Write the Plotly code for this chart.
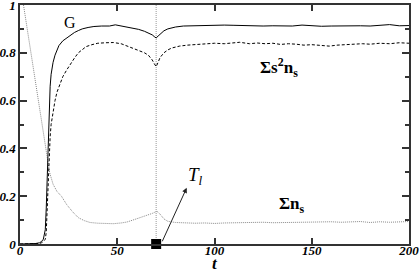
import plotly.graph_objects as go

# G (solid)
g_t = [0, 5, 8, 10, 11, 12, 13, 13.5, 14, 14.5, 15, 15.5, 16, 17, 18, 19, 20, 22, 24, 26, 28, 30, 32, 35, 38,
       42, 46, 49, 52, 55, 58, 61, 64, 66, 68, 69, 70, 71, 72, 74, 76, 78, 80, 84, 88, 92, 96, 100, 105, 110,
       115, 120, 125, 130, 135, 140, 145, 150, 155, 160, 165, 170, 175, 180, 185, 190, 195, 200]
g_v = [0, 0, 0.002, 0.005, 0.01, 0.02, 0.06, 0.15, 0.3, 0.45, 0.58, 0.66, 0.71, 0.76, 0.79, 0.815, 0.83, 0.85,
       0.863, 0.875, 0.885, 0.893, 0.9, 0.906, 0.91, 0.912, 0.912, 0.917, 0.912, 0.91, 0.905, 0.898, 0.89, 0.884,
       0.875, 0.868, 0.862, 0.87, 0.878, 0.892, 0.9, 0.905, 0.908, 0.912, 0.913, 0.915, 0.913, 0.914, 0.916,
       0.915, 0.913, 0.914, 0.912, 0.913, 0.911, 0.912, 0.916, 0.912, 0.911, 0.912, 0.913, 0.914, 0.913, 0.912,
       0.914, 0.918, 0.913, 0.914]

# sum s^2 n_s (dashed)
s2_t = [0, 8, 10, 11, 12, 13, 13.5, 14, 14.5, 15, 15.5, 16, 17, 18, 19, 20, 22, 24, 26, 28, 30, 32, 34, 37, 40,
        44, 48, 52, 56, 60, 64, 66, 68, 69, 70, 71, 72, 74, 76, 78, 82, 86, 90, 95, 100, 105, 110, 113, 118, 122,
        126, 130, 134, 138, 142, 146, 150, 155, 159, 163, 168, 172, 176, 180, 185, 190, 195, 200]
s2_v = [0, 0, 0.002, 0.005, 0.01, 0.02, 0.05, 0.15, 0.28, 0.38, 0.45, 0.5, 0.56, 0.6, 0.635, 0.66, 0.7, 0.728,
        0.755, 0.778, 0.8, 0.815, 0.826, 0.834, 0.84, 0.842, 0.843, 0.838, 0.826, 0.815, 0.8, 0.79, 0.77, 0.755,
        0.742, 0.76, 0.78, 0.8, 0.812, 0.82, 0.828, 0.832, 0.835, 0.837, 0.84, 0.838, 0.843, 0.844, 0.838, 0.841,
        0.838, 0.84, 0.835, 0.838, 0.836, 0.832, 0.834, 0.83, 0.828, 0.832, 0.834, 0.835, 0.838, 0.836, 0.84,
        0.838, 0.842, 0.84]

# sum n_s (dotted gray)
n_t = [1.8, 12.6, 13.6, 15.2, 17, 19, 21.3, 24, 27, 30, 33, 36, 40, 44, 48, 52, 55, 58, 61.6, 65, 68, 70.4, 72,
       74, 76, 80, 85, 90, 95, 100, 105, 110, 115, 120, 125, 130, 135, 140, 145, 150, 155, 160, 165, 170, 175,
       180, 185, 190, 195, 200]
n_v = [1.0, 0.44, 0.4, 0.3, 0.25, 0.22, 0.2, 0.165, 0.135, 0.11, 0.098, 0.09, 0.087, 0.086, 0.085, 0.088, 0.092,
       0.1, 0.11, 0.118, 0.128, 0.137, 0.125, 0.105, 0.095, 0.09, 0.088, 0.087, 0.088, 0.086, 0.088, 0.089, 0.09,
       0.092, 0.091, 0.089, 0.09, 0.088, 0.092, 0.091, 0.094, 0.093, 0.091, 0.092, 0.094, 0.09, 0.093, 0.091,
       0.092, 0.094]

t_l = 70
x_ticks = [0, 50, 100, 150, 200]
x_labels = ["0", "50", "100", "150", "200"]
y_ticks = [0, 0.2, 0.4, 0.6, 0.8, 1]
y_labels = ["0", "0.2", "0.4", "0.6", "0.8", "1"]

SERIF = "Liberation Serif, Times New Roman, serif"
tickfont = dict(family=SERIF, size=13, color="black", weight="bold", style="italic")


def bi(s):
    return "<b><i>%s</i></b>" % s


fig = go.Figure()
fig.add_trace(go.Scatter(x=[t_l, t_l], y=[0, 1], mode="lines",
                         line=dict(color="#999999", width=1, dash="1px,1px"), hoverinfo="skip"))
fig.add_trace(go.Scatter(x=n_t, y=n_v, mode="lines", line=dict(color="#888888", width=1, dash="1px,1px")))
fig.add_trace(go.Scatter(x=s2_t, y=s2_v, mode="lines", line=dict(color="black", width=1, dash="3px,2px")))
fig.add_trace(go.Scatter(x=g_t, y=g_v, mode="lines", line=dict(color="black", width=1)))
fig.add_trace(go.Scatter(x=[t_l], y=[0], mode="markers", cliponaxis=False,
                         marker=dict(symbol="square", size=10, color="black")))

fig.add_annotation(x=85.7, y=0.235, ax=72.8, ay=0.005, axref="x", ayref="y", xref="x", yref="y",
                   text="", showarrow=True, arrowhead=2, arrowsize=1, arrowwidth=1, arrowcolor="#222222")
fig.add_annotation(x=90, y=0.285, xref="x", yref="y", showarrow=False,
                   text="<i>T</i><sub><i>l</i></sub>", font=dict(family=SERIF, size=19, color="black"))
fig.add_annotation(x=25.5, y=0.928, xref="x", yref="y", showarrow=False,
                   text="G", font=dict(family=SERIF, size=16, color="black"))
fig.add_annotation(x=133, y=0.738, xref="x", yref="y", showarrow=False,
                   text="<b>Σs<sup>2</sup>n<sub>s</sub></b>", font=dict(family=SERIF, size=17, color="black"))
fig.add_annotation(x=140, y=0.165, xref="x", yref="y", showarrow=False,
                   text="<b>Σn<sub>s</sub></b>", font=dict(family=SERIF, size=17, color="black"))
fig.add_annotation(x=100, y=-0.08, xref="x", yref="paper", showarrow=False, yanchor="middle",
                   text=bi("t"), font=dict(family=SERIF, size=17, color="black"))

fig.update_layout(
    width=420, height=272, margin=dict(l=20, r=11, t=5, b=28),
    plot_bgcolor="white", paper_bgcolor="white", showlegend=False,
    xaxis=dict(range=[0, 200], tickvals=x_ticks, ticktext=[bi(s) for s in x_labels], ticks="inside",
               ticklen=6, tickwidth=1.5, tickcolor="#333333", automargin=False, ticklabelstandoff=-6,
               ticklabeloverflow="allow",
               showline=True, linecolor="#333333", linewidth=1.5, mirror="allticks", showgrid=False, zeroline=False,
               tickfont=tickfont),
    yaxis=dict(range=[0, 1], tickvals=y_ticks, ticktext=[bi(s) for s in y_labels], ticks="inside", ticklen=7,
               tickwidth=1.5, tickcolor="#333333", automargin=False, ticklabeloverflow="allow",
               showline=True, linecolor="#333333", linewidth=1.5, mirror="allticks", showgrid=False, zeroline=False,
               tickfont=tickfont,
               minor=dict(dtick=0.1, ticks="inside", ticklen=4, tickwidth=1.5, tickcolor="#333333", showgrid=False)),
)
fig.write_html("out.html", config={"displayModeBar": False},
               post_script="document.body.style.margin='0';document.body.style.padding='0';"
                           "document.body.style.overflow='hidden';")
